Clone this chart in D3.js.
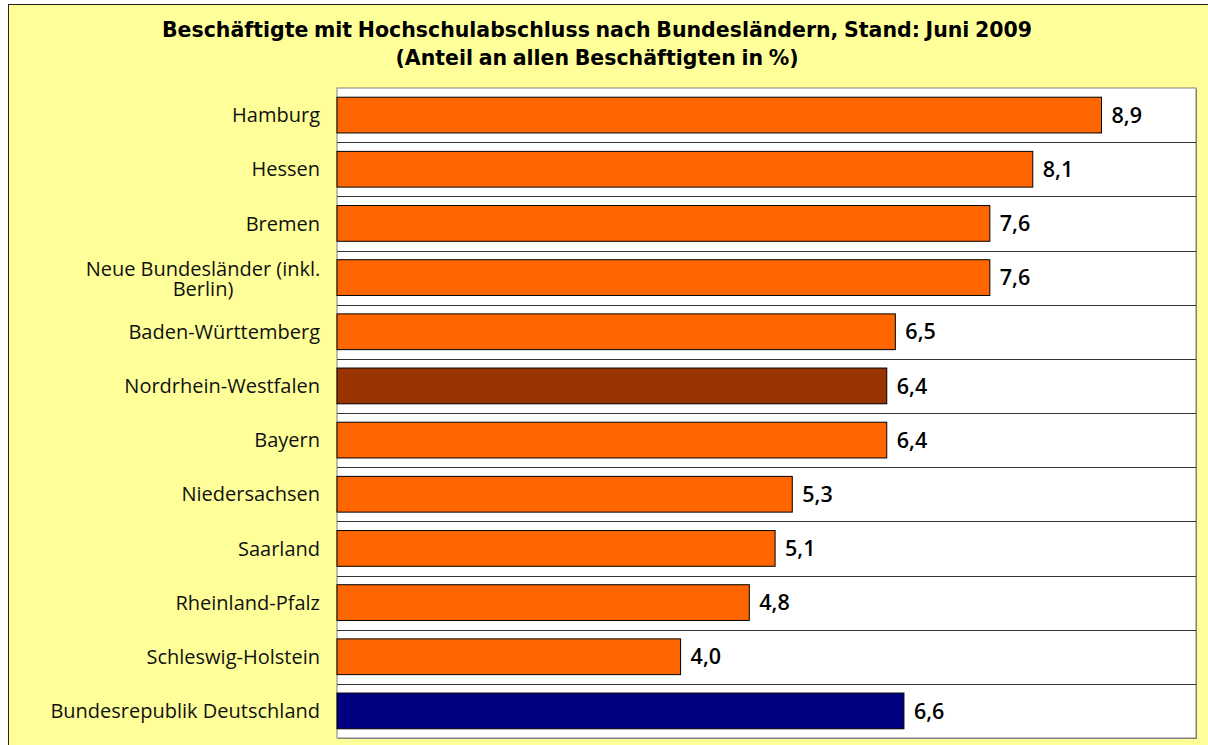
<!DOCTYPE html>
<html>
<head>
<meta charset="utf-8">
<script src="https://cdn.jsdelivr.net/npm/d3@7"></script>
<style>
  body { margin: 0; background: #fff; }
  svg { display: block; }
</style>
</head>
<body>
<script>
// Data
var laender = ["Hamburg", "Hessen", "Bremen", "Neue Bundesländer (inkl. Berlin)",
  "Baden-Württemberg", "Nordrhein-Westfalen", "Bayern", "Niedersachsen",
  "Saarland", "Rheinland-Pfalz", "Schleswig-Holstein", "Bundesrepublik Deutschland"];
var anteile = [8.9, 8.1, 7.6, 7.6, 6.5, 6.4, 6.4, 5.3, 5.1, 4.8, 4.0, 6.6];
var barColors = ["#FF6600", "#FF6600", "#FF6600", "#FF6600", "#FF6600", "#993300",
  "#FF6600", "#FF6600", "#FF6600", "#FF6600", "#FF6600", "#000080"];
var titleLines = ["Beschäftigte mit Hochschulabschluss nach Bundesländern, Stand: Juni 2009",
  "(Anteil an allen Beschäftigten in %)"];

var svgWidth = 1208;
var svgHeight = 745;
var fontFam = "'Open Sans', sans-serif";

var plot = { left: 337, top: 88, right: 1196, bottom: 738 };

var svg = d3.select("body")
  .append("svg")
  .attr("width", svgWidth)
  .attr("height", svgHeight);

// yellow frame
svg.append("rect")
  .attr("x", 8.5).attr("y", 4.5)
  .attr("width", svgWidth + 10).attr("height", svgHeight + 10)
  .attr("fill", "#FFFF99")
  .attr("stroke", "#222")
  .attr("stroke-width", 1);

// title
svg.selectAll(".title")
  .data(titleLines)
  .enter()
  .append("text")
  .attr("class", "title")
  .attr("x", 597)
  .attr("y", (d, i) => 37 + i * 28)
  .attr("text-anchor", "middle")
  .style("font-family", "'DejaVu Sans', sans-serif")
  .style("font-weight", "bold")
  .style("font-size", "20.5px")
  .style("word-spacing", "-1.5px")
  .attr("fill", "#000")
  .text(d => d);

var xScale = d3.scaleLinear()
  .domain([0, 10])
  .range([plot.left, plot.right]);

var yBand = d3.scaleBand()
  .domain(laender)
  .range([plot.top, plot.bottom])
  .paddingInner(0.34)
  .paddingOuter(0.17);

var outerBand = d3.scaleBand()
  .domain(laender)
  .range([plot.top, plot.bottom]);

// plot area with shadow-like border
svg.append("rect")
  .attr("x", plot.left + 1).attr("y", plot.top + 1)
  .attr("width", plot.right - plot.left).attr("height", plot.bottom - plot.top)
  .attr("fill", "#808080");
svg.append("rect")
  .attr("x", plot.left).attr("y", plot.top)
  .attr("width", plot.right - plot.left).attr("height", plot.bottom - plot.top)
  .attr("fill", "#fff")
  .attr("stroke", "#808080")
  .attr("stroke-width", 1);

// lines between categories
svg.selectAll(".grid")
  .data(laender.slice(1))
  .enter()
  .append("line")
  .attr("class", "grid")
  .attr("x1", plot.left)
  .attr("x2", plot.right)
  .attr("y1", d => Math.round(outerBand(d)) + 0.5)
  .attr("y2", d => Math.round(outerBand(d)) + 0.5)
  .attr("stroke", "#333")
  .attr("stroke-width", 1.2);

// bars
svg.selectAll(".bar")
  .data(laender)
  .enter()
  .append("rect")
  .attr("class", "bar")
  .attr("x", xScale(0))
  .attr("y", d => yBand(d))
  .attr("width", (d, i) => xScale(anteile[i]) - xScale(0))
  .attr("height", yBand.bandwidth())
  .attr("fill", (d, i) => barColors[i])
  .attr("stroke", "#000")
  .attr("stroke-width", 1);

// value labels
svg.selectAll(".value")
  .data(laender)
  .enter()
  .append("text")
  .attr("class", "value")
  .attr("x", (d, i) => xScale(anteile[i]) + 10)
  .attr("y", d => yBand(d) + yBand.bandwidth() / 2)
  .attr("dy", "0.36em")
  .style("font-family", fontFam)
  .style("font-weight", 600)
  .style("font-size", "21.5px")
  .text((d, i) => anteile[i].toFixed(1).replace(".", ","));

// category labels
var labels = svg.selectAll(".label")
  .data(laender)
  .enter()
  .append("text")
  .attr("class", "label")
  .style("font-family", fontFam)
  .style("font-size", "20px")
  .attr("fill", "#111");

labels.each(function(d) {
  var t = d3.select(this);
  var cy = yBand(d) + yBand.bandwidth() / 2;
  if (d.indexOf("(inkl.") > 0) {
    var parts = ["Neue Bundesländer (inkl.", "Berlin)"];
    t.attr("text-anchor", "middle");
    t.selectAll("tspan")
      .data(parts)
      .enter()
      .append("tspan")
      .attr("x", 203)
      .attr("y", (p, i) => cy - 2 + i * 20)
      .text(p => p);
  } else {
    t.attr("text-anchor", "end")
      .attr("x", 320)
      .attr("y", cy)
      .attr("dy", "0.36em")
      .text(d);
  }
});
</script>
</body>
</html>
